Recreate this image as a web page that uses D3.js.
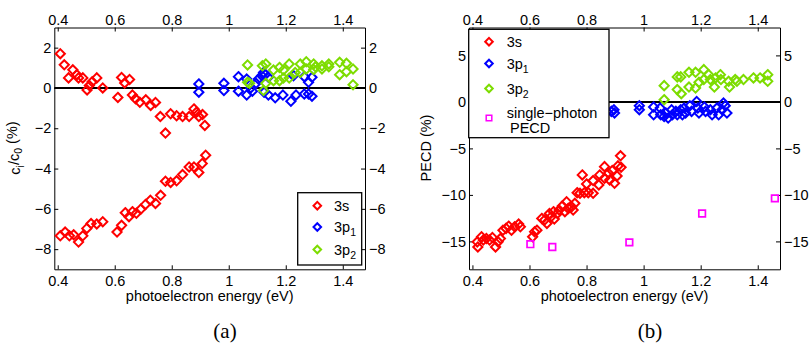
<!DOCTYPE html>
<html>
<head>
<meta charset="utf-8">
<script src="https://cdn.jsdelivr.net/npm/d3@7"></script>
<style>
  body { margin: 0; background: #fff; }
  text { font-family: "Liberation Sans", Arial, Helvetica, sans-serif; fill: #000; }
  text.serif { font-family: "Liberation Serif", "Times New Roman", serif; }
</style>
</head>
<body>
<svg id="fig"></svg>
<script>
// ---- data ----
const xDomain = [0.388, 1.478];
const xTicks = [0.4, 0.6, 0.8, 1, 1.2, 1.4];

// panel (a): c_i/c_0 (%)
const aYDomain = [-9, 3];
const aYTicks = [-8, -6, -4, -2, 0, 2];
const a3s = [
  [0.409,1.7],[0.423,1.15],[0.438,0.5],[0.453,0.9],[0.467,0.66],[0.473,0.5],[0.488,0.5],
  [0.503,-0.1],[0.511,0.12],[0.521,0.31],[0.537,0.5],[0.558,0.0],[0.611,-0.47],[0.624,0.52],
  [0.635,0.25],[0.652,0.42],[0.662,-0.35],[0.673,-0.54],[0.688,-0.71],[0.709,-0.59],
  [0.726,-0.87],[0.743,-0.72],[0.760,-1.42],[0.778,-2.24],[0.796,-1.28],[0.817,-1.38],
  [0.838,-1.42],[0.861,-1.42],[0.878,-1.04],[0.887,-1.2],[0.895,-1.42],[0.908,-1.32],[0.916,-1.86],
  [0.409,-7.34],[0.426,-7.15],[0.441,-7.34],[0.456,-7.29],[0.473,-7.65],[0.488,-7.34],
  [0.502,-6.97],[0.517,-6.73],[0.537,-6.75],[0.558,-6.64],[0.608,-7.15],[0.624,-6.82],
  [0.637,-6.19],[0.650,-6.39],[0.662,-6.14],[0.676,-6.22],[0.691,-6.02],[0.708,-5.78],
  [0.725,-5.57],[0.743,-5.73],[0.761,-5.33],[0.778,-4.63],[0.796,-4.69],[0.817,-4.61],
  [0.838,-4.3],[0.861,-3.92],[0.878,-3.92],[0.895,-4.2],[0.907,-3.75],[0.919,-3.34]
];
const a3p1 = [
  [0.895,0.2],[0.895,-0.21],[0.983,0.23],[0.983,-0.13],[1.034,0.56],[1.034,-0.16],
  [1.063,0.44],[1.063,-0.35],[1.077,0.0],[1.083,-0.16],[1.096,0.23],[1.104,0.44],
  [1.116,0.61],[1.122,0.77],[1.128,0.66],[1.124,-0.21],[1.139,0.53],[1.139,-0.35],
  [1.163,-0.49],[1.19,-0.35],[1.218,-0.66],[1.236,-0.35],[1.227,0.61],[1.265,0.56],
  [1.265,-0.3],[1.28,0.28],[1.28,-0.3],[1.292,0.53],[1.292,-0.41]
];
const a3p2 = [
  [1.066,1.14],[1.066,0.28],[1.073,0.23],[1.118,1.1],[1.13,1.19],[1.122,-0.13],[1.13,0.23],
  [1.157,0.89],[1.157,0.36],[1.178,1.02],[1.178,0.36],[1.192,0.89],[1.192,0.49],[1.212,1.19],
  [1.212,0.49],[1.233,0.77],[1.251,1.19],[1.251,0.77],[1.272,1.3],[1.272,0.94],[1.298,1.19],
  [1.298,0.91],[1.304,1.05],[1.327,1.1],[1.327,0.94],[1.351,1.19],[1.351,1.05],[1.389,1.27],
  [1.389,0.66],[1.413,1.22],[1.413,0.81],[1.436,0.94],[1.436,0.16]
];

// panel (b): PECD (%)
const bYDomain = [-18, 8];
const bYTicks = [-15, -10, -5, 0, 5];
const b3s = [
  [0.417,-15.05],[0.419,-15.6],[0.432,-14.5],[0.438,-14.86],[0.449,-14.7],[0.46,-14.86],
  [0.47,-14.58],[0.481,-15.6],[0.49,-15.05],[0.498,-14.7],[0.507,-13.8],[0.518,-13.6],
  [0.527,-13.36],[0.537,-13.8],[0.548,-13.43],[0.562,-13.14],[0.568,-13.43],[0.611,-14.5],
  [0.618,-13.97],[0.626,-13.79],[0.643,-12.53],[0.653,-12.7],[0.661,-13.07],[0.67,-12.0],
  [0.676,-12.35],[0.684,-11.8],[0.687,-12.6],[0.698,-12.0],[0.704,-11.63],[0.715,-11.2],
  [0.724,-11.8],[0.73,-10.73],[0.736,-11.45],[0.748,-11.27],[0.753,-11.63],[0.759,-10.9],
  [0.767,-9.76],[0.777,-9.83],[0.785,-7.85],[0.792,-9.76],[0.8,-8.82],[0.806,-9.76],
  [0.823,-9.83],[0.823,-8.46],[0.843,-8.93],[0.846,-7.85],[0.863,-8.21],[0.863,-6.96],
  [0.877,-7.67],[0.881,-8.39],[0.89,-7.39],[0.898,-8.75],[0.907,-7.96],[0.91,-6.88],
  [0.919,-5.8],[0.921,-7.02]
];
const b3p1 = [
  [0.887,-1.02],[0.898,-1.2],[0.896,-0.84],[0.985,-0.41],[0.985,-0.84],[1.035,-0.55],
  [1.035,-1.38],[1.058,-0.66],[1.06,-1.38],[1.072,-1.56],[1.078,-1.2],[1.086,-1.74],
  [1.098,-0.84],[1.101,-1.38],[1.113,-1.02],[1.118,-1.38],[1.13,-0.84],[1.136,-1.38],
  [1.142,-0.66],[1.147,-1.2],[1.162,-0.41],[1.168,-1.02],[1.186,0.05],[1.19,-0.66],
  [1.194,-1.2],[1.213,-0.55],[1.217,-1.02],[1.234,-0.84],[1.24,-1.38],[1.257,-0.66],
  [1.263,-1.38],[1.275,-0.84],[1.28,-0.12],[1.286,-0.41],[1.292,-1.2]
];
const b3p2 = [
  [1.072,1.75],[1.072,0.24],[1.118,2.69],[1.118,1.32],[1.13,2.69],[1.132,0.88],[1.159,3.18],
  [1.159,1.6],[1.182,3.18],[1.182,1.49],[1.194,2.1],[1.211,3.47],[1.211,2.4],[1.228,2.93],
  [1.234,2.4],[1.248,1.6],[1.252,2.58],[1.269,2.93],[1.271,2.4],[1.298,2.21],[1.301,1.6],
  [1.321,2.4],[1.327,2.21],[1.35,2.4],[1.385,2.58],[1.408,2.58],[1.435,2.93],[1.435,2.21]
];
const bSinglePhoton = [[0.603,-15.3],[0.68,-15.6],[0.95,-15.1],[1.205,-12.0],[1.46,-10.37]];

const colors = { s3: "#ff0000", p1: "#0000ff", p2: "#7ddc00", single: "#ff00ff" };

// ---- drawing ----
const W = 810, H = 345;
const svg = d3.select("#fig").attr("width", W).attr("height", H);

const diamond = r => `M0,${-r}L${r},0L0,${r}L${-r},0Z`;
const square = r => `M${-r},${-r}H${r}V${r}H${-r}Z`;
const fmt = d3.format("~g");

function drawPanel(box, yDomain, yTicks, series) {
  const x = d3.scaleLinear().domain(xDomain).range([box.left, box.right]);
  const y = d3.scaleLinear().domain(yDomain).range([box.bottom, box.top]);
  const g = svg.append("g");

  const axes = [
    [d3.axisBottom(x).tickValues(xTicks).tickPadding(6), `translate(0,${box.bottom})`],
    [d3.axisTop(x).tickValues(xTicks).tickPadding(3), `translate(0,${box.top})`],
    [d3.axisLeft(y).tickValues(yTicks).tickPadding(3), `translate(${box.left},0)`],
    [d3.axisRight(y).tickValues(yTicks).tickPadding(4), `translate(${box.right},0)`]
  ];
  axes.forEach(([ax, tr]) => {
    const a = g.append("g").attr("transform", tr)
      .call(ax.tickSizeInner(-4).tickSizeOuter(0).tickFormat(fmt));
    a.selectAll("path,line").attr("stroke", "#000");
    a.selectAll("text").attr("font-size", 14.5)
      .style("font-family", '"Liberation Sans", Arial, sans-serif');
  });

  // zero line
  g.append("line")
    .attr("x1", x(xDomain[0])).attr("x2", x(xDomain[1]))
    .attr("y1", y(0)).attr("y2", y(0))
    .attr("stroke", "#000").attr("stroke-width", 2);

  series.forEach(s => {
    g.append("g").selectAll("path").data(s.data).join("path")
      .attr("d", s.shape)
      .attr("transform", d => `translate(${x(d[0])},${y(d[1])})`)
      .attr("fill", "none").attr("stroke", s.color).attr("stroke-width", s.sw);
  });

  g.append("text")
    .attr("x", (box.left + box.right) / 2).attr("y", 301)
    .attr("text-anchor", "middle").attr("font-size", 14.5)
    .text("photoelectron energy (eV)");
  return g;
}

function label3p(t, sub) {
  t.append("tspan").text("3p");
  t.append("tspan").attr("dy", "0.4em").attr("font-size", 10.5).text(sub);
}

// panel (a)
const boxA = { left: 54.3, right: 365, top: 27.5, bottom: 269.3 };
const gA = drawPanel(boxA, aYDomain, aYTicks, [
  { data: a3s, shape: diamond(4.6), color: colors.s3, sw: 2 },
  { data: a3p1, shape: diamond(4.6), color: colors.p1, sw: 2 },
  { data: a3p2, shape: diamond(4.6), color: colors.p2, sw: 2 }
]);
const ylA = gA.append("text").attr("transform", "translate(20,148) rotate(-90)")
  .attr("text-anchor", "middle").attr("font-size", 14.5);
ylA.append("tspan").text("c");
ylA.append("tspan").attr("dy", "0.35em").attr("font-size", 10.5).text("i");
ylA.append("tspan").attr("dy", "-0.35em").text("/c");
ylA.append("tspan").attr("dy", "0.35em").attr("font-size", 10.5).text("0");
ylA.append("tspan").attr("dy", "-0.35em").text(" (%)");

// legend (a)
const legA = gA.append("g");
legA.append("rect").attr("x", 297.7).attr("y", 192.7).attr("width", 64).attr("height", 72.3)
  .attr("fill", "#fff").attr("stroke", "#000").attr("stroke-width", 1.3);
[[colors.s3, 205.7, null], [colors.p1, 227, "1"], [colors.p2, 249.5, "2"]].forEach(([c, yy, sub]) => {
  legA.append("path").attr("d", diamond(3.8)).attr("transform", `translate(317.3,${yy})`)
    .attr("fill", "none").attr("stroke", c).attr("stroke-width", 2);
  const t = legA.append("text").attr("x", 334).attr("y", yy).attr("dy", "0.35em").attr("font-size", 14.5);
  if (sub) label3p(t, sub); else t.text("3s");
});
gA.append("text").attr("class", "serif").attr("x", 225).attr("y", 338).attr("text-anchor", "middle")
  .attr("font-size", 21).text("(a)");

// panel (b)
const boxB = { left: 469, right: 780, top: 27.5, bottom: 269.3 };
const gB = drawPanel(boxB, bYDomain, bYTicks, [
  { data: b3s, shape: diamond(4.6), color: colors.s3, sw: 2 },
  { data: b3p1, shape: diamond(4.6), color: colors.p1, sw: 2 },
  { data: b3p2, shape: diamond(4.6), color: colors.p2, sw: 2 },
  { data: bSinglePhoton, shape: square(3.3), color: colors.single, sw: 1.7 }
]);
gB.append("text").attr("transform", "translate(431,148) rotate(-90)")
  .attr("text-anchor", "middle").attr("font-size", 14.5).text("PECD (%)");

// legend (b)
const legB = gB.append("g");
legB.append("rect").attr("x", 468.7).attr("y", 29.3).attr("width", 140.3).attr("height", 108.4)
  .attr("fill", "#fff").attr("stroke", "#000").attr("stroke-width", 1.3);
[[colors.s3, 41.7, null], [colors.p1, 63.5, "1"], [colors.p2, 88.5, "2"]].forEach(([c, yy, sub]) => {
  legB.append("path").attr("d", diamond(3.8)).attr("transform", `translate(489,${yy})`)
    .attr("fill", "none").attr("stroke", c).attr("stroke-width", 2);
  const t = legB.append("text").attr("x", 506.7).attr("y", yy).attr("dy", "0.35em").attr("font-size", 14.5);
  if (sub) label3p(t, sub); else t.text("3s");
});
legB.append("path").attr("d", square(2.8)).attr("transform", "translate(489,118)")
  .attr("fill", "none").attr("stroke", colors.single).attr("stroke-width", 1.5);
legB.append("text").attr("x", 506.7).attr("y", 112.7).attr("dy", "0.35em").attr("font-size", 14.5)
  .text("single\u2212photon");
legB.append("text").attr("x", 510).attr("y", 128).attr("dy", "0.35em").attr("font-size", 14.5)
  .text("PECD");
gB.append("text").attr("class", "serif").attr("x", 650).attr("y", 338).attr("text-anchor", "middle")
  .attr("font-size", 21).text("(b)");
</script>
</body>
</html>
